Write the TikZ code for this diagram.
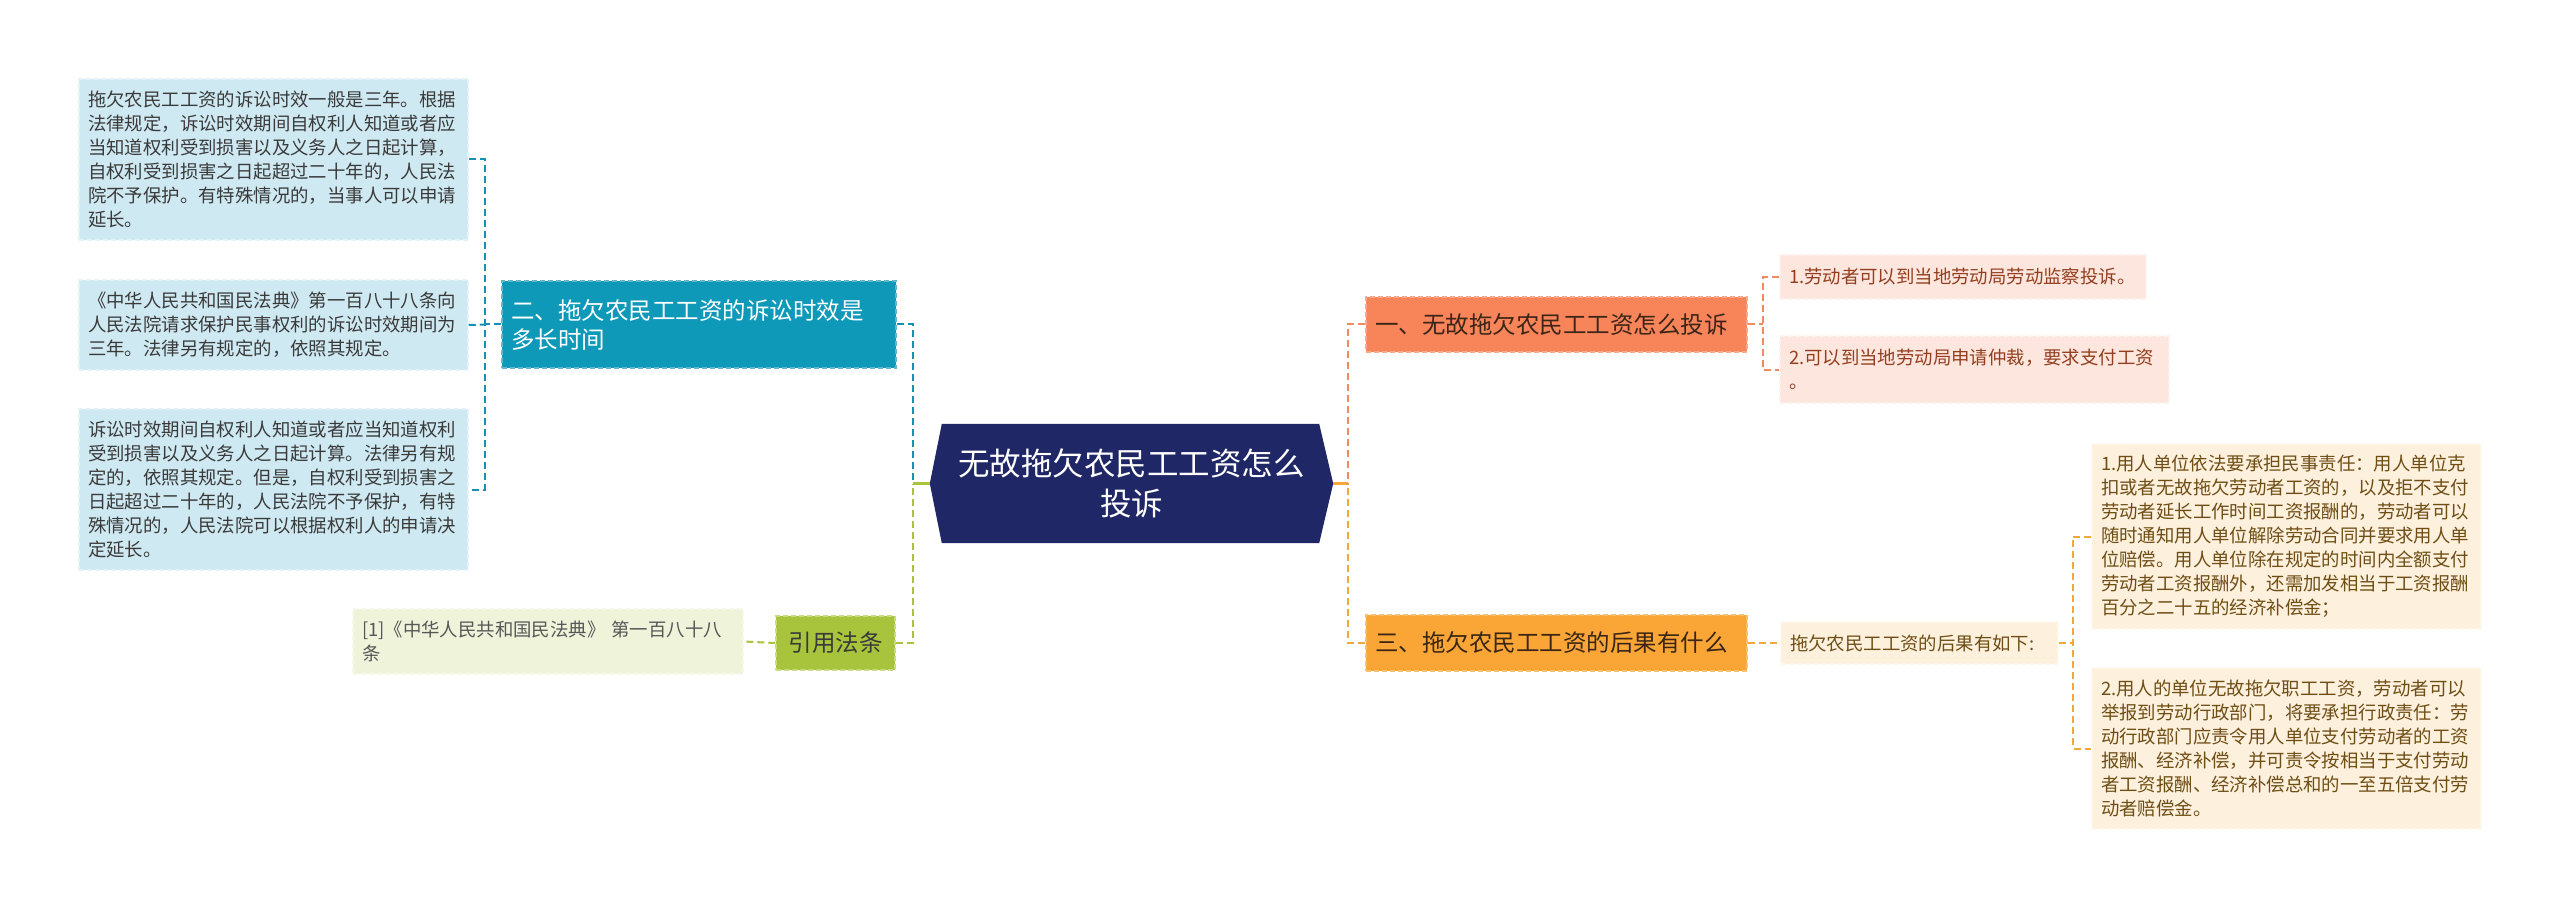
\documentclass[tikz,border=0pt]{standalone}
\usepackage{fontspec}
\setmainfont{Noto Sans CJK SC}
\usetikzlibrary{backgrounds,calc}
\definecolor{navy}{HTML}{1F2766}
\definecolor{lbfill}{HTML}{CFE9F2}
\definecolor{lbline}{HTML}{E2F2F8}
\definecolor{teal2}{HTML}{0F99B9}
\definecolor{teal2line}{HTML}{5FB8D0}
\definecolor{tealc}{HTML}{1591B4}
\definecolor{olive}{HTML}{A8C43C}
\definecolor{oliveline}{HTML}{C8DB80}
\definecolor{olivec}{HTML}{A9C43A}
\definecolor{lgfill}{HTML}{EFF3DA}
\definecolor{lgline}{HTML}{F6F9EA}
\definecolor{orng}{HTML}{F8845A}
\definecolor{orngline}{HTML}{FAA98A}
\definecolor{orngc}{HTML}{EE8B60}
\definecolor{pkfill}{HTML}{FDE6DD}
\definecolor{pkline}{HTML}{FEF1EC}
\definecolor{pktext}{HTML}{933F1F}
\definecolor{yorng}{HTML}{F9A637}
\definecolor{yorngline}{HTML}{FBC06D}
\definecolor{yorngc}{HTML}{F5A83A}
\definecolor{crfill}{HTML}{FDF0DC}
\definecolor{crline}{HTML}{FEF7EC}
\definecolor{crtext}{HTML}{6F4E16}
\definecolor{darktext}{HTML}{3A3A3A}
\definecolor{nodetext}{HTML}{3B2516}
\tikzset{
  box/.style={draw, dash pattern=on 5pt off 3pt, line width=1.5pt,
    inner xsep=9pt, inner ysep=0pt, align=left, anchor=center,
    font=\fontsize{18.4}{24}\selectfont},
  bigbox/.style={box, font=\fontsize{23.5}{29}\selectfont},
  conn/.style={line width=2pt, dash pattern=on 7pt off 4pt},
  solidconn/.style={line width=2.5pt}
}
\begin{document}
\begin{tikzpicture}[x=1pt,y=-1pt]
\useasboundingbox (0,0) rectangle (2560,909);
\begin{scope}[on background layer]
\fill[white] (0,0) rectangle (2560,909);
\end{scope}

% center
\node[minimum width=403pt, minimum height=119pt, inner sep=0pt, align=center,
  text=white, font=\fontsize{31.5}{40}\selectfont] (center) at (1131.5,483.5)
  {无故拖欠农民工工资怎么\\投诉};
\begin{scope}[on background layer]
\fill[navy] (center.west) -- ([xshift=12pt]center.north west) -- ([xshift=-14pt]center.north east)
  -- (center.east) -- ([xshift=-14pt]center.south east) -- ([xshift=12pt]center.south west) -- cycle;
\end{scope}

% left side
\node[bigbox, fill=teal2, draw=teal2line, text=white, text width=376pt, minimum height=87pt] (n2) at (699,324.5)
  {二、拖欠农民工工资的诉讼时效是\\多长时间};
\node[bigbox, fill=olive, draw=oliveline, text=darktext, align=center, minimum width=119pt, minimum height=54pt, inner xsep=0pt] (ref) at (835.5,643)
  {引用法条};
\node[box, fill=lbfill, draw=lbline, text=darktext, text width=371pt, minimum height=161pt] (L1) at (273.5,159.5)
  {拖欠农民工工资的诉讼时效一般是三年。根据\\法律规定，诉讼时效期间自权利人知道或者应\\当知道权利受到损害以及义务人之日起计算，\\自权利受到损害之日起超过二十年的，人民法\\院不予保护。有特殊情况的，当事人可以申请\\延长。};
\node[box, fill=lbfill, draw=lbline, text=darktext, text width=371pt, minimum height=90pt] (L2) at (273.5,325)
  {《中华人民共和国民法典》第一百八十八条向\\人民法院请求保护民事权利的诉讼时效期间为\\三年。法律另有规定的，依照其规定。};
\node[box, fill=lbfill, draw=lbline, text=darktext, text width=371pt, minimum height=161pt] (L3) at (273.5,489.5)
  {诉讼时效期间自权利人知道或者应当知道权利\\受到损害以及义务人之日起计算。法律另有规\\定的，依照其规定。但是，自权利受到损害之\\日起超过二十年的，人民法院不予保护，有特\\殊情况的，人民法院可以根据权利人的申请决\\定延长。};
\node[box, fill=lgfill, draw=lgline, text=darktext!85, text width=372pt, minimum height=65pt] (refbox) at (548,641.5)
  {[1]《中华人民共和国民法典》 第一百八十八\\条};

% right side
\node[bigbox, fill=orng, draw=orngline, text=nodetext, text width=363pt, minimum height=55pt] (n1) at (1556.5,324.5)
  {一、无故拖欠农民工工资怎么投诉};
\node[bigbox, fill=yorng, draw=yorngline, text=nodetext, text width=363pt, minimum height=56pt] (n3) at (1556.5,643)
  {三、拖欠农民工工资的后果有什么};
\node[box, fill=pkfill, draw=pkline, text=pktext, text width=348pt, minimum height=44pt] (P1) at (1963,277)
  {1.劳动者可以到当地劳动局劳动监察投诉。};
\node[box, fill=pkfill, draw=pkline, text=pktext, text width=371pt, minimum height=67pt] (P2) at (1974.5,369.5)
  {2.可以到当地劳动局申请仲裁，要求支付工资\\。};
\node[box, fill=crfill, draw=crline, text=crtext, text width=259pt, minimum height=42pt] (C0) at (1919.5,643)
  {拖欠农民工工资的后果有如下:};
\node[box, fill=crfill, draw=crline, text=crtext, text width=371pt, minimum height=185pt] (R1) at (2286.5,536.5)
  {1.用人单位依法要承担民事责任：用人单位克\\扣或者无故拖欠劳动者工资的，以及拒不支付\\劳动者延长工作时间工资报酬的，劳动者可以\\随时通知用人单位解除劳动合同并要求用人单\\位赔偿。用人单位除在规定的时间内全额支付\\劳动者工资报酬外，还需加发相当于工资报酬\\百分之二十五的经济补偿金；};
\node[box, fill=crfill, draw=crline, text=crtext, text width=371pt, minimum height=161pt] (R2) at (2286.5,748.5)
  {2.用人的单位无故拖欠职工工资，劳动者可以\\举报到劳动行政部门，将要承担行政责任：劳\\动行政部门应责令用人单位支付劳动者的工资\\报酬、经济补偿，并可责令按相当于支付劳动\\者工资报酬、经济补偿总和的一至五倍支付劳\\动者赔偿金。};

% junction coordinates
\coordinate (jL) at (913,483.5);
\coordinate (jR) at (1348,483.5);
\coordinate (bL) at (485,324.5);
\coordinate (b1) at (1763,324.5);
\coordinate (b3) at (2073,643);

% connectors left
\draw[conn, tealc] (n2.east) -| (jL);
\draw[conn, olivec] (ref.east) -| (jL);
\draw[solidconn, olivec] (jL) -- (center.west);
\draw[conn, tealc] (n2.west) -- (bL);
\draw[conn, tealc] (L1.east) -| (bL) |- (L3.east);
\draw[conn, tealc] (L2.east) -- (bL);
\draw[conn, olivec] (ref.west) -- (refbox.east);

% connectors right
\draw[solidconn, yorngc] (center.east) -- (jR);
\draw[conn, orngc] (n1.west) -| (jR);
\draw[conn, yorngc] (n3.west) -| (jR);
\draw[conn, orngc] (n1.east) -- (b1);
\draw[conn, orngc] (P1.west) -| (b1) |- (P2.west);
\draw[conn, yorngc] (n3.east) -- (C0.west);
\draw[conn, yorngc] (C0.east) -- (b3);
\draw[conn, yorngc] (R1.west) -| (b3) |- (R2.west);
\end{tikzpicture}
\end{document}
